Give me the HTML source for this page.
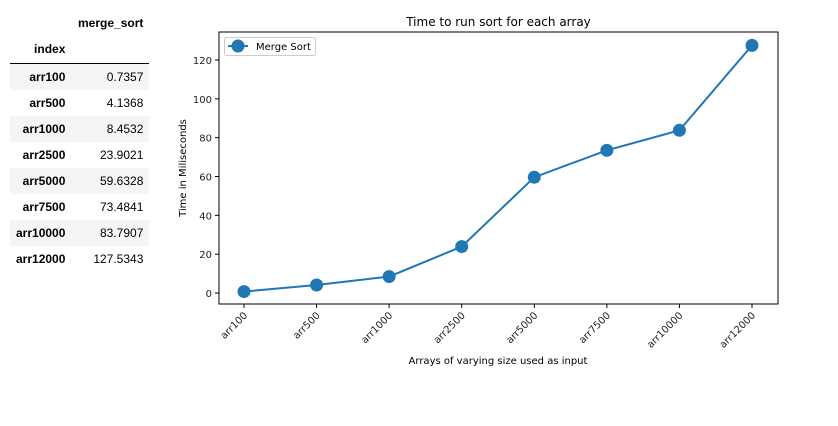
<!DOCTYPE html>
<html><head><meta charset="utf-8"><style>
body{margin:0;width:838px;height:426px;background:#fff;overflow:hidden;position:relative;font-family:"Liberation Sans",Arial,sans-serif}
table{position:absolute;left:10px;top:10px;border-collapse:collapse;font-size:12px;color:#000}
td,th{text-align:right;padding:0 6px;height:26px}
th{font-weight:bold}
tbody tr:nth-child(odd){background:#f5f5f5}
thead tr:last-child th{border-bottom:1px solid #000}
svg{position:absolute;left:0;top:0}
</style></head><body>
<table>
<thead><tr style="height:24px"><th style="width:43px"></th><th style="width:66px">merge_sort</th></tr>
<tr style="height:27px"><th>index</th><th></th></tr></thead>
<tbody id="tb"></tbody></table>
<svg id="c" width="838" height="426"></svg>
<script>
const categories=["arr100","arr500","arr1000","arr2500","arr5000","arr7500","arr10000","arr12000"];
const values=[0.7357,4.1368,8.4532,23.9021,59.6328,73.4841,83.7907,127.5343];
const valueLabels=["0.7357","4.1368","8.4532","23.9021","59.6328","73.4841","83.7907","127.5343"];
const yTicks=[0,20,40,60,80,100,120];
const tb=document.getElementById('tb');
categories.forEach((c,i)=>{const tr=document.createElement('tr');


tr.innerHTML='<th>'+c+'</th><td>'+valueLabels[i]+'</td>';tb.appendChild(tr);});
const L=219,R=778,T=32,B=304;
const x=i=>244+i*(752-244)/(categories.length-1);
const y=v=>293-v*(293-60)/120;
const s=document.getElementById('c');const NS='http://www.w3.org/2000/svg';
function el(t,a,txt){const e=document.createElementNS(NS,t);for(const k in a)e.setAttribute(k,a[k]);if(txt!==undefined)e.textContent=txt;s.appendChild(e);return e;}
const F='"DejaVu Sans",sans-serif';
let e=el('rect',{x:L,y:T,width:R-L,height:B-T,fill:'none',stroke:'#000','stroke-width':1});

yTicks.forEach(v=>{el('line',{x1:L-4,x2:L,y1:y(v),y2:y(v),stroke:'#000'});
e=el('text',{x:L-7,y:y(v)+4,'text-anchor':'end','font-size':10,'font-family':F,fill:'#222'},v);
});
categories.forEach((c,i)=>{el('line',{x1:x(i),x2:x(i),y1:B,y2:B+4,stroke:'#000'});
e=el('text',{x:x(i)+4,y:B+12,'text-anchor':'end','font-size':10,'font-family':F,fill:'#222',transform:`rotate(-45 ${x(i)+4} ${B+12})`},c);
});
e=el('polyline',{points:values.map((v,i)=>x(i)+','+y(v)).join(' '),fill:'none',stroke:'#1f77b4','stroke-width':2});

values.forEach((v,i)=>{e=el('circle',{cx:x(i),cy:y(v),r:6.5,fill:'#1f77b4'});
});
e=el('text',{x:(L+R)/2,y:26,'text-anchor':'middle','font-size':12,'font-family':F,fill:'#000'},'Time to run sort for each array');

e=el('text',{x:498,y:364,'text-anchor':'middle','font-size':10,'font-family':F,fill:'#000'},'Arrays of varying size used as input');

e=el('text',{x:186,y:168,'text-anchor':'middle','font-size':10,'font-family':F,fill:'#000',transform:'rotate(-90 186 168)'},'Time in Miliseconds');

e=el('rect',{x:224.5,y:37.5,width:91,height:18,rx:2,fill:'#fff',stroke:'#ccc'});

el('line',{x1:228,x2:248,y1:46,y2:46,stroke:'#1f77b4','stroke-width':2});
el('circle',{cx:238,cy:46,r:6.5,fill:'#1f77b4'});
e=el('text',{x:256,y:50,'font-size':10,'font-family':F,fill:'#000'},'Merge Sort');

</script></body></html>
